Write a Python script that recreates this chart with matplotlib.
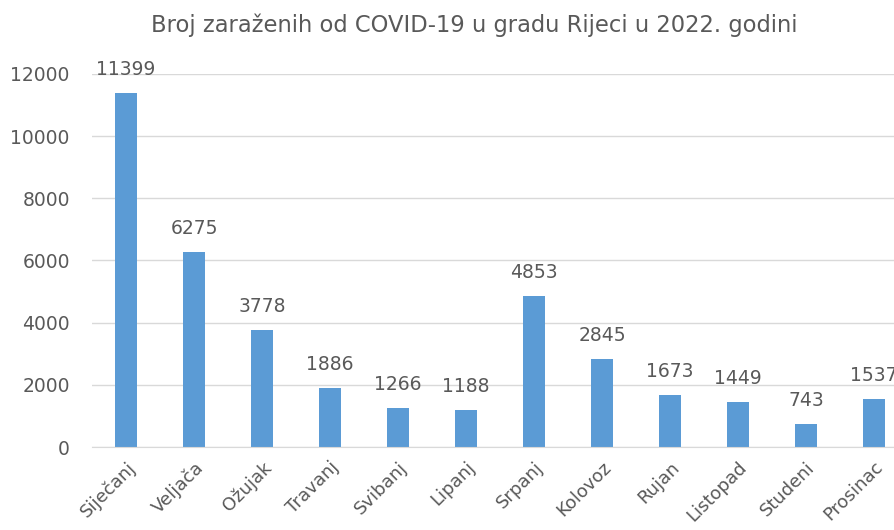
import matplotlib.pyplot as plt
import numpy as np

months = ["Siječanj", "Veljača", "Ožujak", "Travanj", "Svibanj", "Lipanj",
          "Srpanj", "Kolovoz", "Rujan", "Listopad", "Studeni", "Prosinac"]
cases = [11399, 6275, 3778, 1886, 1266, 1188, 4853, 2845, 1673, 1449, 743, 1537]

plt.rcParams['font.family'] = ['DejaVu Sans']
text_color = '#595959'

fig = plt.figure(figsize=(8.95, 5.3), dpi=100)
# axes run a bit past the right edge, as in the cropped original
ax = fig.add_axes([0.1028, 0.1566, 0.9117, 0.7038])

x = np.arange(len(months))
bars = ax.bar(x, cases, width=0.32, color='#5B9BD5', zorder=3)

for xi, v in zip(x, cases):
    ax.text(xi, v + 450, str(v), ha='center', va='bottom',
            fontsize=13.5, color=text_color)

ax.set_xlim(-0.5, len(months) - 0.5)
ax.set_ylim(0, 12000)
ax.set_yticks(range(0, 12001, 2000))
ax.yaxis.grid(True, color='#D9D9D9', linewidth=1, zorder=0)
ax.tick_params(axis='both', length=0, labelsize=13.5, colors=text_color)
ax.tick_params(axis='y', pad=16)
ax.tick_params(axis='x', pad=8, labelsize=13)
ax.set_xticks(x)
ax.set_xticklabels(months, rotation=45, ha='right', rotation_mode='anchor')

for s in ['top', 'right', 'left']:
    ax.spines[s].set_visible(False)
ax.spines['bottom'].set_color('#D9D9D9')
ax.spines['bottom'].set_zorder(4)

fig.text(0.53, 0.952, "Broj zaraženih od COVID-19 u gradu Rijeci u 2022. godini",
         ha='center', va='center', fontsize=16.3, color=text_color)

fig.savefig("out.png", dpi=100)
